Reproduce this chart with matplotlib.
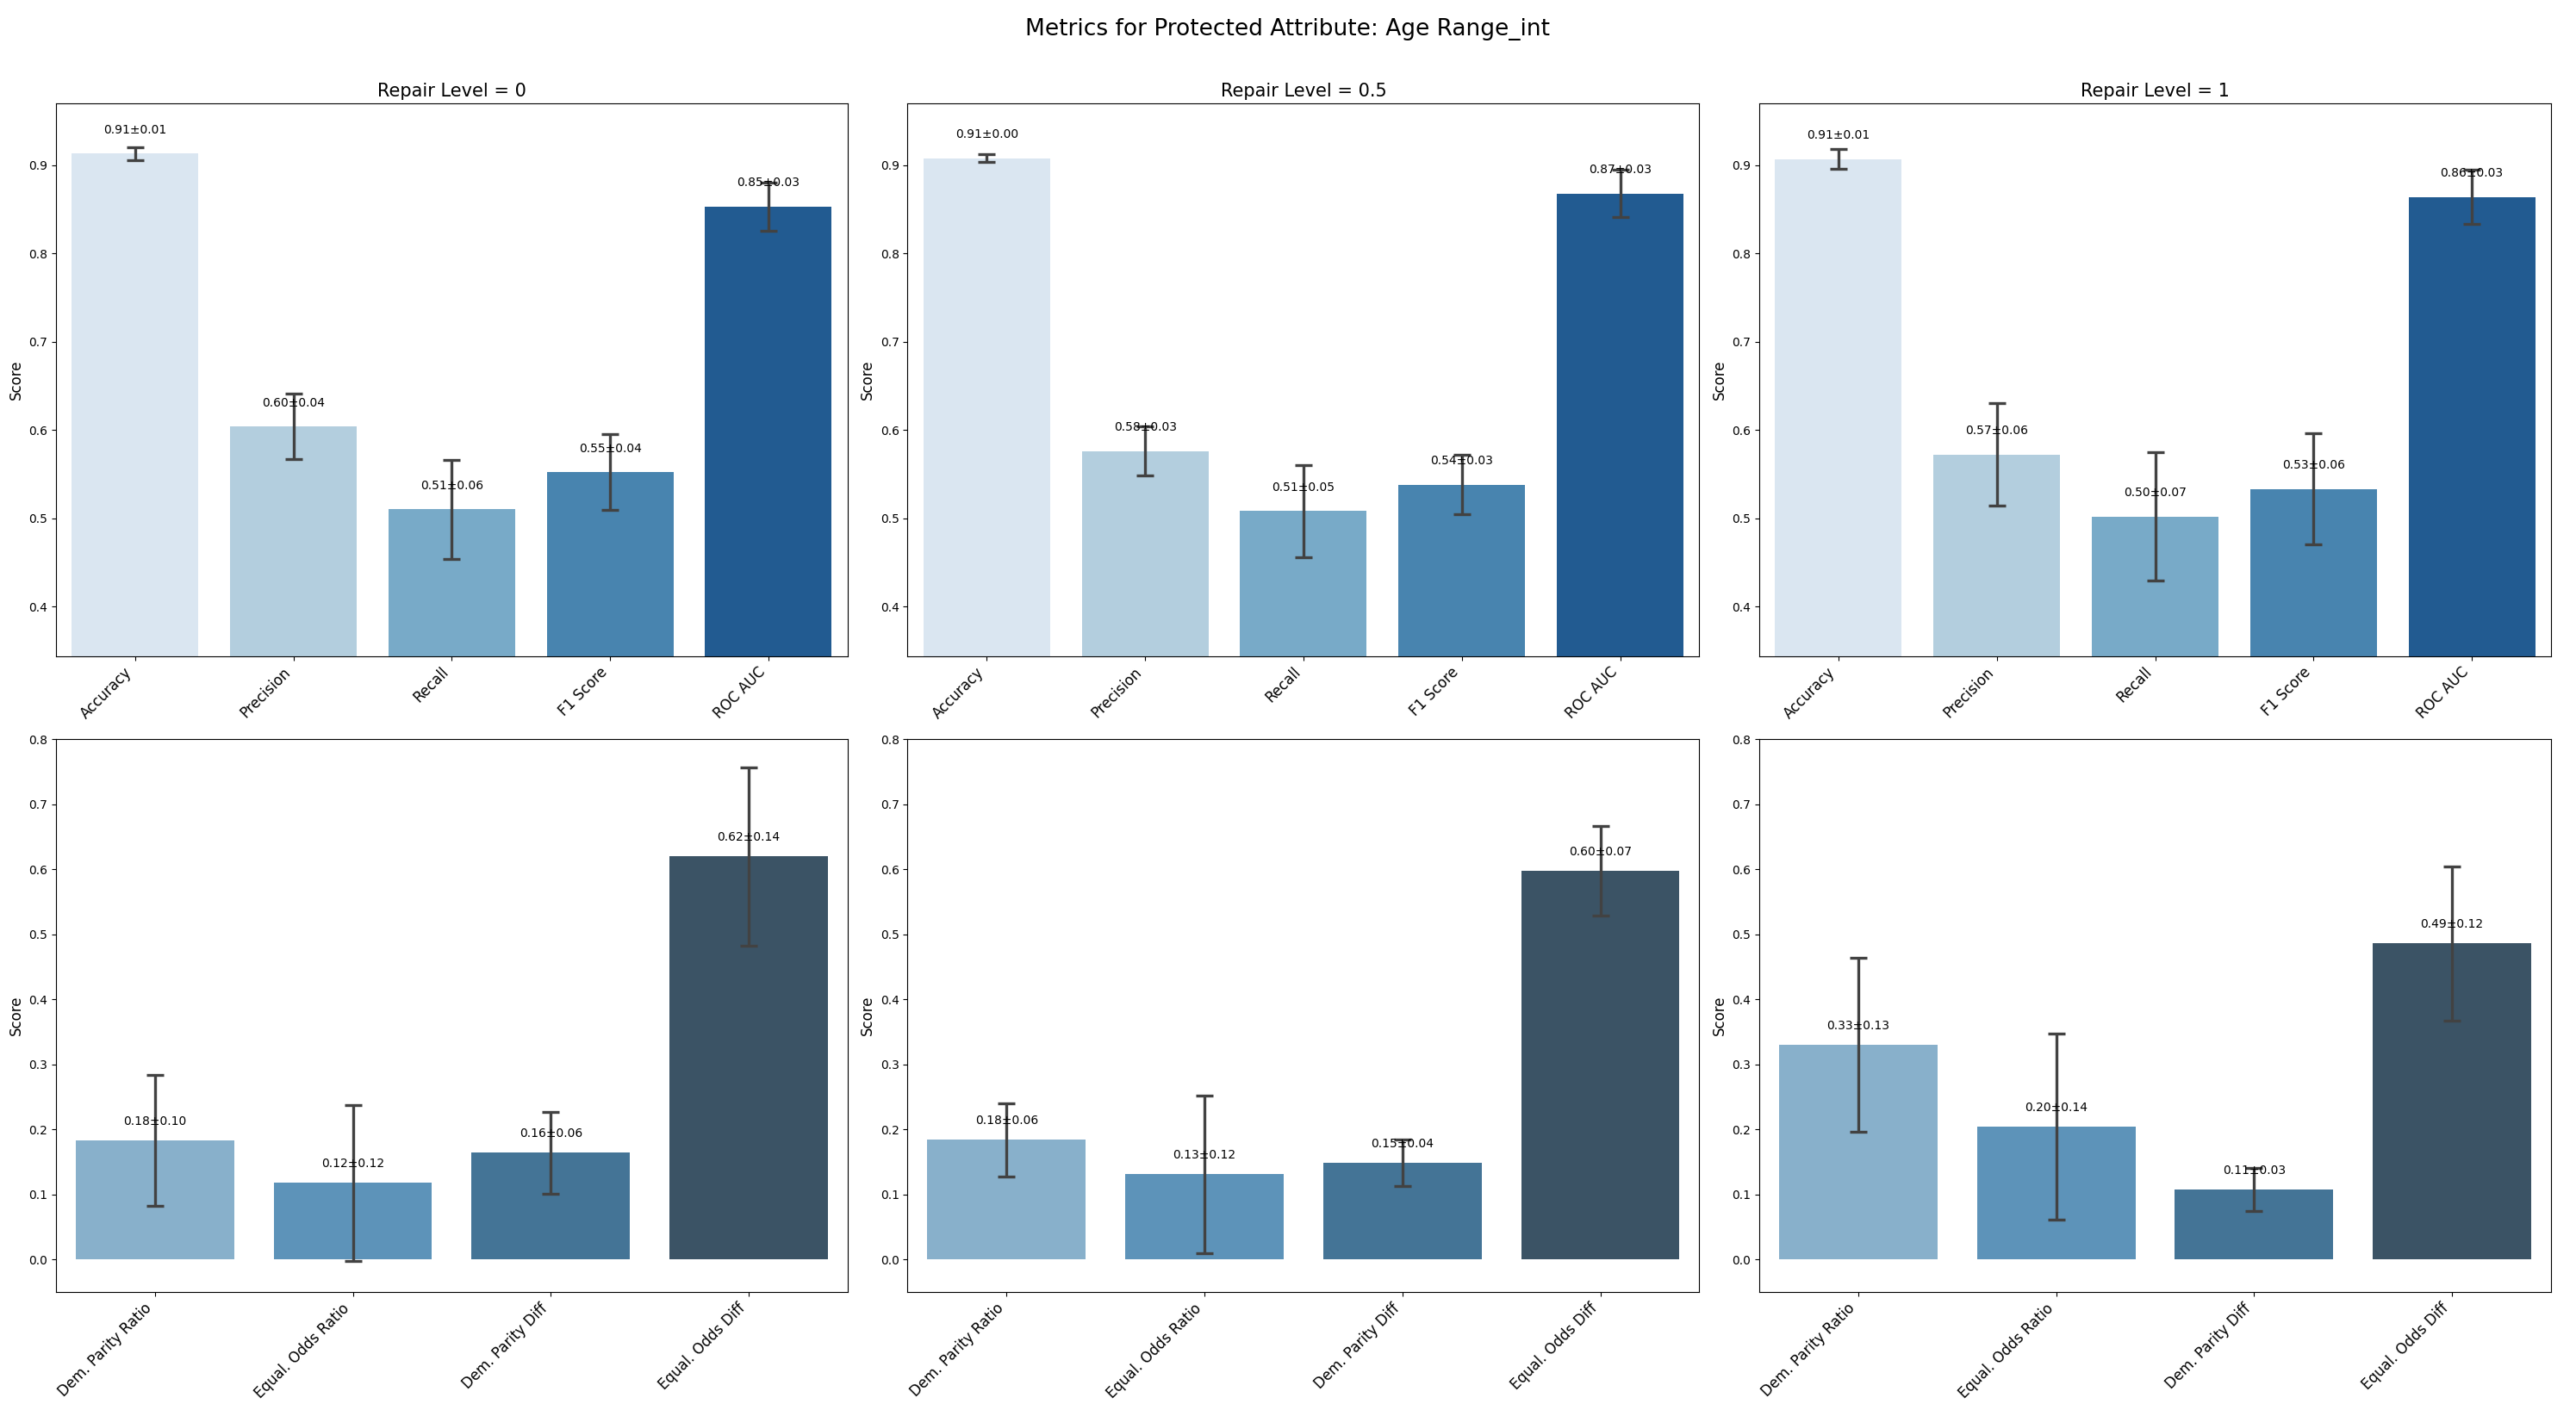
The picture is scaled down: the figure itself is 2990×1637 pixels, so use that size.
import numpy as np
import seaborn as sns
from matplotlib import pyplot as plt

repair_levels = ["0", "0.5", "1"]

perf_metrics = ["Accuracy", "Precision", "Recall", "F1 Score", "ROC AUC"]
fair_metrics = ["Dem. Parity Ratio", "Equal. Odds Ratio", "Dem. Parity Diff", "Equal. Odds Diff"]

# mean / std per repair level, performance metrics
perf_mean = [
    [0.913, 0.604, 0.510, 0.552, 0.853],
    [0.908, 0.576, 0.508, 0.538, 0.868],
    [0.907, 0.572, 0.502, 0.533, 0.864],
]
perf_std = [
    [0.0075, 0.037, 0.056, 0.043, 0.027],
    [0.004, 0.028, 0.052, 0.0335, 0.027],
    [0.011, 0.058, 0.0725, 0.063, 0.031],
]

# mean / std per repair level, fairness metrics
fair_mean = [
    [0.183, 0.118, 0.164, 0.620],
    [0.184, 0.131, 0.149, 0.598],
    [0.330, 0.204, 0.108, 0.486],
]
fair_std = [
    [0.101, 0.120, 0.063, 0.137],
    [0.056, 0.121, 0.036, 0.069],
    [0.134, 0.143, 0.033, 0.119],
]


def draw_bars(ax, labels, means, stds, colors):
    """Bars with std error bars and value labels."""
    x = np.arange(len(labels))
    ax.bar(x, means, width=0.8, color=colors)
    ax.errorbar(x, means, yerr=stds, fmt="none", ecolor="#424242",
                elinewidth=2.4, capsize=7, capthick=2.4)
    for xi, m, s in zip(x, means, stds):
        ax.text(xi, m + 0.02, f"{m:.2f}±{s:.2f}", ha="center", va="bottom", fontsize=10)
    ax.set_xticks(x)
    ax.set_xticklabels(labels, rotation=45, ha="right", fontsize=12)
    ax.set_xlim(-0.5, len(labels) - 0.5)
    ax.set_ylabel("Score", fontsize=12)


top_colors = [sns.desaturate(c, 0.75) for c in sns.color_palette("Blues", 5)]
bot_colors = [sns.desaturate(c, 0.75) for c in sns.color_palette("Blues_d", 4)]

fig, axes = plt.subplots(2, 3, figsize=(29.9, 16.37), dpi=100)
fig.subplots_adjust(left=0.0217, right=0.9903, top=0.9267, bottom=0.0837,
                    wspace=0.0757, hspace=0.151)

for i, level in enumerate(repair_levels):
    ax = axes[0, i]
    draw_bars(ax, perf_metrics, perf_mean[i], perf_std[i], top_colors)
    ax.set_ylim(0.344, 0.970)
    ax.set_title(f"Repair Level = {level}", fontsize=15)

    ax = axes[1, i]
    draw_bars(ax, fair_metrics, fair_mean[i], fair_std[i], bot_colors)
    ax.set_ylim(-0.05, 0.8)

fig.suptitle("Metrics for Protected Attribute: Age Range_int", fontsize=19, y=0.987)
fig.savefig("out.png", dpi=100)
